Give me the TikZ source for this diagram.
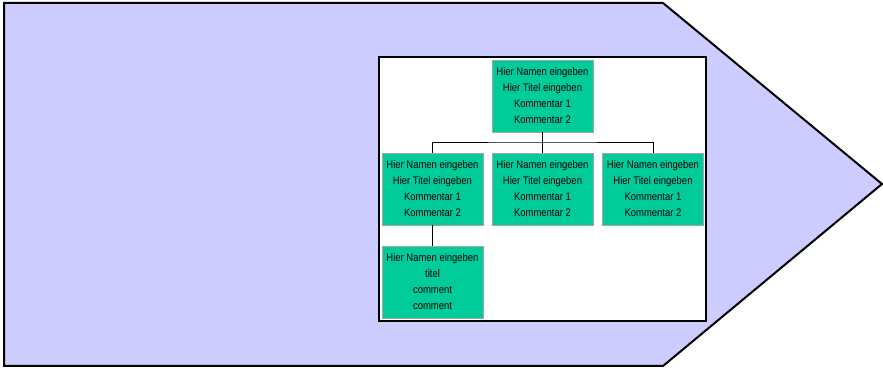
\documentclass[tikz,border=0pt]{standalone}
\usepackage{fontspec}
\setmainfont{Liberation Sans}[FakeStretch=0.86]
\definecolor{arrowfill}{HTML}{CCCCFF}
\definecolor{boxgreen}{HTML}{00CC99}
\begin{document}
\begin{tikzpicture}[x=1pt,y=1pt,
  person/.style={draw=gray!70, line width=0.8pt, fill=boxgreen, rectangle,
    minimum width=101pt, minimum height=72pt, inner sep=0pt, align=center,
    font=\fontsize{11}{16}\selectfont},
  link/.style={draw=black, line width=0.8pt}]
  \useasboundingbox (0,0) rectangle (883,369);
  % background arrow shape
  \draw[fill=arrowfill, line width=2pt, line join=miter]
    (4,3) -- (4,366) -- (663,366) -- (882,185) -- (663,3) -- cycle;
  % chart frame
  \draw[fill=white, line width=1.6pt] (379,48) rectangle (706,312);
  % organisation chart
  \node[person] (top) at (542.5,273) {Hier Namen eingeben\\Hier Titel eingeben\\Kommentar 1\\Kommentar 2};
  \node[person] (left) at (432.5,180) {Hier Namen eingeben\\Hier Titel eingeben\\Kommentar 1\\Kommentar 2};
  \node[person] (mid) at (542.5,180) {Hier Namen eingeben\\Hier Titel eingeben\\Kommentar 1\\Kommentar 2};
  \node[person] (right) at (653,180) {Hier Namen eingeben\\Hier Titel eingeben\\Kommentar 1\\Kommentar 2};
  \node[person] (sub) at (432.5,87) {Hier Namen eingeben\\titel\\comment\\comment};
  \coordinate (bus) at (542.5,227);
  \draw[link] (top.south) -- (bus);
  \draw[link] (left.north) |- (bus) -| (right.north);
  \draw[link] (mid.north) -- (bus);
  \draw[link] (left.south) -- (sub.north);
\end{tikzpicture}
\end{document}
